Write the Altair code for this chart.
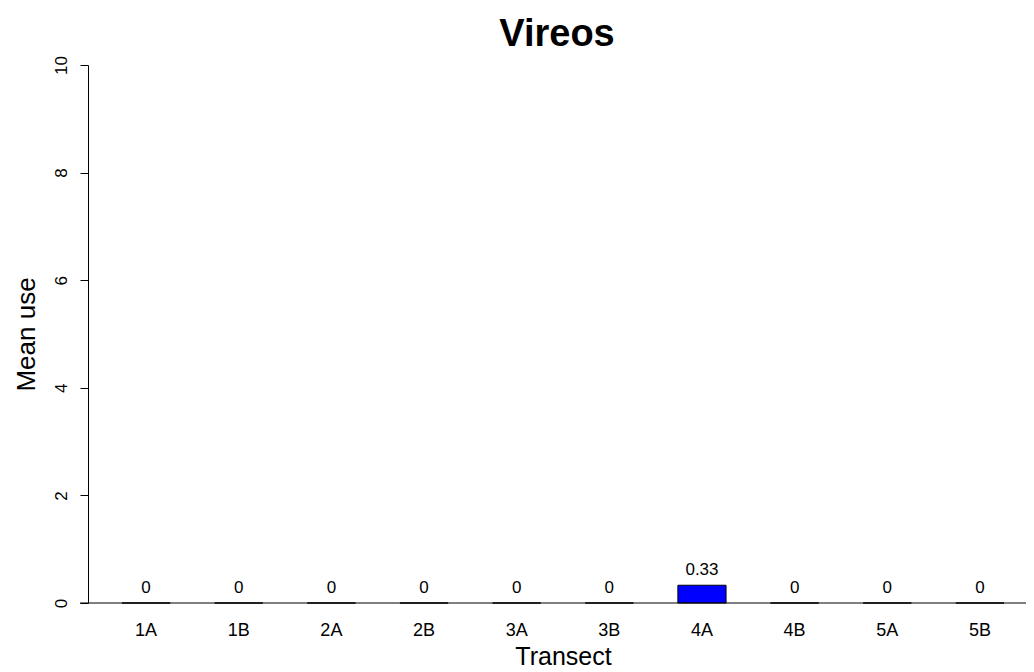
import altair as alt
import pandas as pd

transects = ["1A", "1B", "2A", "2B", "3A", "3B", "4A", "4B", "5A", "5B"]
mean_use = [0, 0, 0, 0, 0, 0, 0.33, 0, 0, 0]
y_ticks = [0, 2, 4, 6, 8, 10]

df = pd.DataFrame({"transect": transects, "value": mean_use})
base_df = pd.DataFrame({"value": [0]})

W, H = 938, 538
FONT = "Liberation Sans"

x = alt.X(
    "transect:N",
    sort=transects,
    scale=alt.Scale(range=[34, 916], paddingInner=0.48, paddingOuter=0),
    axis=alt.Axis(
        title="Transect", domain=False, ticks=False, labelAngle=0,
        labelFontSize=18, labelPadding=18, labelColor="black",
        titleFontSize=25, titleFontWeight="normal", titlePadding=5, titleColor="black",
        labelFont=FONT, titleFont=FONT,
    ),
)
y = alt.Y(
    "value:Q",
    scale=alt.Scale(domain=[0, 10], nice=False, zero=True),
    axis=alt.Axis(
        title="Mean use", values=y_ticks, grid=False, domainColor="black",
        tickColor="black", tickSize=8, labelAngle=270, labelAlign="center",
        labelBaseline="bottom", labelFontSize=17, labelPadding=10, labelColor="black",
        titleFontSize=26, titleFontWeight="normal", titlePadding=13, titleColor="black",
        labelFont=FONT, titleFont=FONT,
    ),
)

bars = alt.Chart(df).mark_bar(color="#0000FF", stroke="black", strokeWidth=1).encode(x=x, y=y)
labels = alt.Chart(df).mark_text(baseline="bottom", dy=-6, fontSize=17, font=FONT, color="black").encode(
    x=x,
    y=y,
    text=alt.Text("value:Q", format="~g"),
)
baseline = alt.Chart(base_df).mark_rule(color="black", strokeWidth=1).encode(
    x=alt.value(-8), x2=alt.value(W), y=y
)

chart = (
    alt.layer(bars, labels, baseline)
    .properties(
        width=W, height=H,
        view=alt.ViewBackground(stroke="transparent", strokeWidth=0),
        title=alt.TitleParams("Vireos", fontSize=38, font=FONT, fontWeight="bold",
                              anchor="middle", offset=2, color="black"),
        autosize=alt.AutoSizeParams(type="none"),
        padding={"left": 80, "top": 57, "right": 0, "bottom": 66},
    )
    .configure_view(strokeWidth=0, stroke="transparent")
    .configure_axis(grid=False)
    .configure(background="white")
)

chart.save("out.html", embed_options={"renderer": "svg", "actions": False})
